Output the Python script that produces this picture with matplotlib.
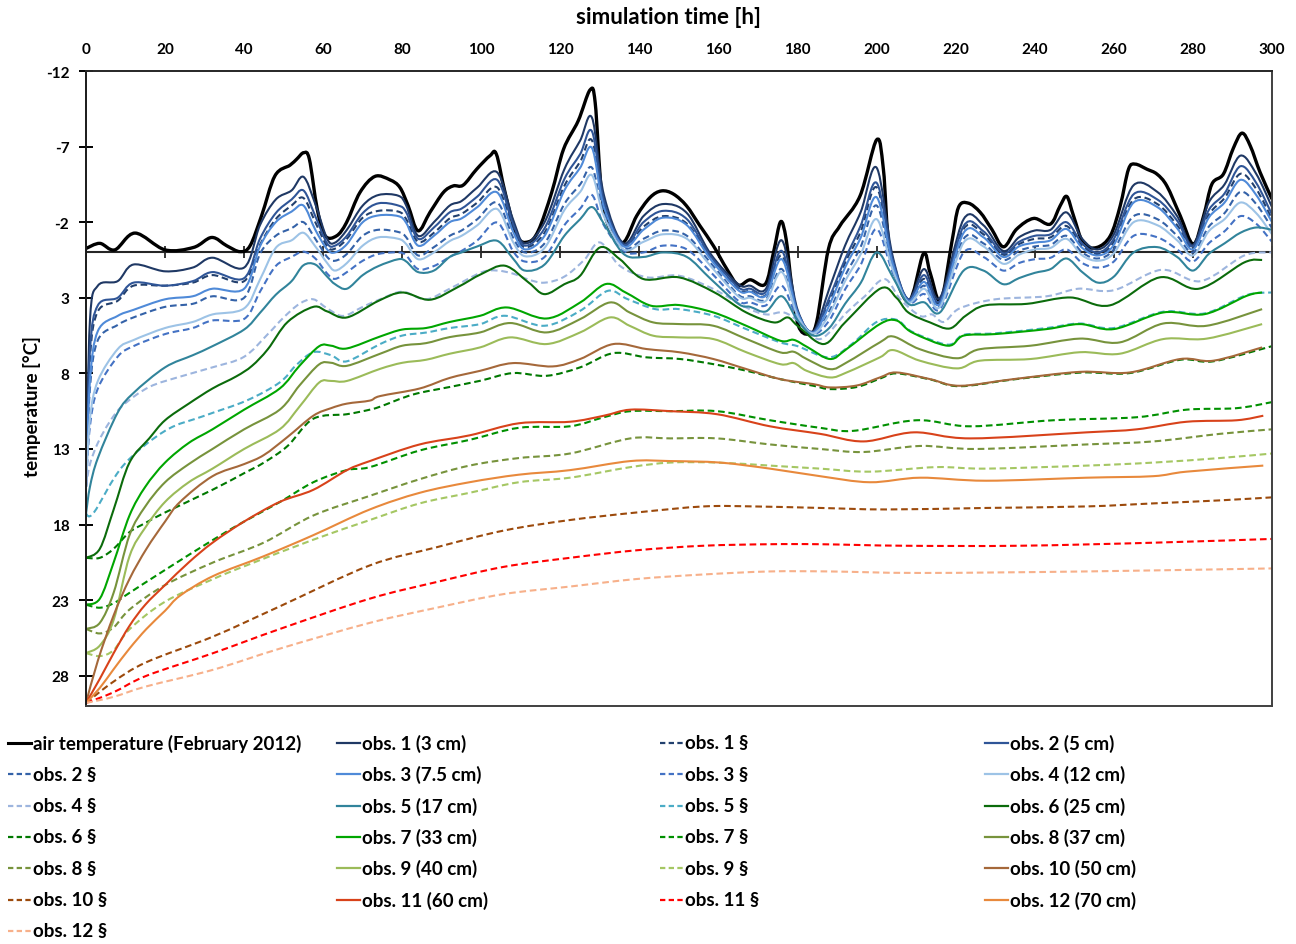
import numpy as np
import matplotlib.pyplot as plt
from matplotlib.lines import Line2D
from matplotlib.path import Path
from matplotlib.patches import PathPatch

plt.rcParams['font.family'] = ['Lato', 'DejaVu Sans']
plt.rcParams['font.weight'] = 'bold'
plt.rcParams['axes.unicode_minus'] = False

# ---- data ----
x_ticks = list(range(0, 301, 20))
y_ticks = [-12, -7, -2, 3, 8, 13, 18, 23, 28]

t_air = [0, 3.5, 7.3, 12.4, 20, 27.2, 31.8, 35.6, 39, 41.5,
         44.4, 47.8, 51.6, 53.3, 55.1, 56.5, 58.5, 60.5, 63.4, 65.9,
         69.3, 73.1, 76.9, 79.4, 81.5, 84, 87, 90.4, 92.9, 95.4,
         98.8, 102.2, 103.8, 106, 109, 111.9, 114.4, 117.8, 120.8, 124.5,
         127.5, 128.8, 130.4, 132.5, 135.9, 139.3, 142.7, 145.6, 148.6, 151.9,
         155.3, 158.7, 162.1, 165, 168, 171.8, 173.9, 175.7, 177.1, 178.5,
         180.2, 182.7, 184.8, 187.8, 190.7, 195.8, 200, 201.7, 203.4, 208,
         211.8, 213.5, 216.2, 219, 220.7, 223.2, 226.2, 229.1, 232.1, 235.4,
         239.7, 243.9, 246.4, 248.1, 249.8, 252.3, 255.7, 259.1, 261.6, 263.7,
         265.4, 268.4, 270.9, 273.4, 276.8, 280.1, 282.7, 284.8, 287.7, 290.2,
         292.4, 294.5, 297, 300]
air = [-0.26, -0.6, -0.17, -1.28, -0.17, -0.33, -0.99, -0.44, -0.05, -0.44,
       -2.42, -5.07, -5.77, -6.17, -6.6, -6.17, -2.86, -1.1, -1.1, -1.98,
       -3.97, -5.03, -4.8, -4.3, -3.08, -1.43, -2.65, -3.97, -4.4, -4.45,
       -5.5, -6.4, -6.5, -3.97, -1.1, -0.7, -1.43, -3.97, -6.83, -8.7,
       -10.75, -9.9, -3.97, -1.54, -0.66, -2.42, -3.64, -4.07, -3.86, -3.08,
       -1.76, -0.44, 1.1, 2.16, 1.81, 2.1, 0.0, -2.03, -0.88, 2.2,
       4.85, 5.4, 4.63, -0.22, -1.76, -3.74, -7.45, -5.5, 0.0, 3.27,
       0.1, 1.32, 3.2, -0.66, -2.98, -3.26, -2.65, -1.54, -0.37, -1.54,
       -2.25, -1.87, -3.08, -3.7, -2.42, -0.6, -0.33, -1.1, -3.08, -5.5,
       -5.84, -5.5, -5.18, -4.4, -2.42, -0.55, -2.42, -4.52, -5.18, -6.88,
       -7.89, -7.05, -5.29, -3.53]

t_shallow = [0, 1, 3, 8, 12, 20, 27, 32, 40, 44, 48, 52, 55, 58, 61, 63, 66, 70,
             74, 79, 81, 84, 88, 92, 95, 99, 104, 108, 111, 116, 121, 125, 128,
             131, 136, 141, 146, 152, 158, 165, 168, 172, 176, 180, 184, 188, 192,
             196, 200, 204, 208, 212, 216, 222, 227, 232, 236, 240, 244, 248, 252,
             256, 260, 265, 271, 276, 280, 284, 288, 292, 296, 300]
obs1 = [15.5, 4.5, 2.2, 1.9, 0.8, 1.25, 1.0, 0.35, 1.0, -1.8, -3.5, -4.1, -5.0, -3.2,
        -0.9, -0.65, -1.5, -3.1, -3.8, -3.75, -3.1, -1.1, -2.0, -3.1, -3.4, -4.3, -5.3,
        -2.2, -0.6, -2.0, -5.5, -7.4, -8.9, -3.8, -0.6, -2.4, -3.2, -2.6, 0.1, 2.1, 2.2,
        2.4, -0.8, 3.8, 5.2, 2.4, -0.45, -2.7, -5.6, 0.2, 3.1, 1.1, 3.0, -2.2, -1.8,
        -0.1, -1.0, -1.45, -1.5, -2.65, -0.9, -0.2, -1.2, -4.45, -4.0, -2.4, -0.5, -3.3,
        -4.5, -6.4, -5.2, -3.0]
obs2 = [15.5, 6.5, 3.5, 3.0, 2.0, 2.2, 1.9, 1.3, 1.7, -0.9, -2.6, -3.5, -4.1, -2.4,
        -0.6, -0.45, -1.1, -2.6, -3.25, -3.1, -2.65, -0.9, -1.65, -2.65, -2.9, -3.7,
        -4.8, -1.9, -0.45, -1.6, -4.85, -6.5, -8.0, -3.4, -0.5, -2.0, -2.75, -2.2, 0.25,
        2.3, 2.4, 2.6, -0.1, 3.9, 5.25, 3.0, 0.45, -1.8, -4.6, 0.4, 3.1, 1.5, 3.2, -1.75,
        -1.4, 0.05, -0.7, -1.1, -1.2, -2.0, -0.6, 0.0, -0.9, -3.85, -3.5, -2.1, -0.4,
        -2.8, -3.9, -5.7, -4.6, -2.5]
obs1_s = [15.5, 7.0, 3.9, 3.2, 2.2, 2.2, 2.0, 1.5, 1.9, -0.5, -2.2, -3.1, -3.6, -2.0,
          -0.4, -0.25, -0.9, -2.3, -2.75, -2.7, -2.2, -0.7, -1.3, -2.25, -2.55, -3.3,
          -4.3, -1.6, -0.35, -1.3, -4.4, -6.0, -7.4, -3.2, -0.45, -1.7, -2.4, -1.9, 0.35,
          2.45, 2.55, 2.8, 0.2, 4.0, 5.3, 3.3, 0.7, -1.4, -4.3, 0.6, 3.15, 1.75, 3.3,
          -1.55, -1.2, 0.15, -0.55, -0.9, -1.0, -1.75, -0.45, 0.1, -0.7, -3.5, -3.2,
          -1.8, -0.3, -2.5, -3.6, -5.2, -4.2, -2.2]
obs3 = [15.5, 8.5, 5.2, 4.2, 3.8, 3.1, 2.9, 2.4, 2.4, -0.4, -2.0, -2.7, -3.1, -1.5,
        -0.2, 0.0, -0.55, -2.0, -2.45, -2.4, -1.95, -0.45, -1.1, -2.0, -2.25, -3.0,
        -3.97, -1.4, -0.2, -1.1, -4.1, -5.6, -6.9, -3.0, -0.4, -1.5, -2.3, -1.8, 0.45,
        2.5, 2.6, 2.85, 0.45, 4.0, 5.3, 3.5, 1.0, -1.0, -3.65, 0.7, 3.2, 1.95, 3.4, -1.3,
        -1.0, 0.3, -0.4, -0.65, -0.8, -1.55, -0.3, 0.2, -0.5, -3.3, -3.0, -1.6, -0.2,
        -2.3, -3.3, -4.8, -3.8, -2.0]
obs2_s = [15.5, 9.0, 5.8, 4.8, 4.3, 3.6, 3.4, 2.9, 3.0, 0.1, -1.1, -1.6, -2.0, -0.9,
          0.3, 0.55, 0.1, -1.1, -1.5, -1.35, -1.0, 0.2, -0.35, -1.1, -1.45, -2.2, -3.3,
          -1.0, 0.0, -0.6, -3.2, -4.5, -5.6, -2.6, -0.3, -0.9, -1.45, -1.1, 0.7, 2.8,
          2.9, 3.1, 1.1, 4.2, 5.35, 3.9, 1.55, -0.4, -3.1, 0.9, 3.25, 2.2, 3.5, -0.9,
          -0.6, 0.5, -0.1, -0.4, -0.5, -1.1, 0.0, 0.4, -0.2, -2.4, -2.2, -1.1, 0.0,
          -1.7, -2.6, -4.0, -3.2, -1.6]
obs4 = [15.5, 11.0, 8.5, 6.4, 5.8, 5.0, 4.6, 4.1, 3.7, 1.8, -0.3, -0.8, -1.3, -0.4,
        0.7, 1.2, 0.7, -0.45, -1.0, -0.9, -0.55, 0.45, 0.0, -0.75, -1.1, -1.8, -2.87,
        -0.7, 0.25, -0.3, -2.8, -4.0, -5.1, -2.4, -0.2, -0.7, -1.2, -0.9, 0.9, 2.9,
        3.0, 3.2, 1.3, 4.2, 5.35, 4.1, 1.9, 0.1, -2.2, 1.1, 3.3, 2.4, 3.6, -0.65, -0.4,
        0.75, 0.15, -0.2, -0.3, -0.9, 0.2, 0.55, 0.05, -2.0, -1.8, -0.8, 0.2, -1.4,
        -2.2, -3.3, -2.6, -1.2]
obs3_s = [15.5, 11.5, 9.0, 6.9, 6.2, 5.4, 5.0, 4.5, 4.4, 2.6, 0.9, 0.3, -0.05, 0.4,
          1.4, 1.75, 1.3, 0.55, 0.1, 0.0, 0.2, 1.1, 0.9, 0.3, -0.1, -0.8, -1.98, -0.1,
          0.6, 0.3, -1.8, -2.9, -3.8, -1.8, -0.1, 0.0, -0.45, -0.2, 1.3, 3.2, 3.3, 3.5,
          2.2, 4.4, 5.4, 4.5, 2.45, 0.8, -1.55, 1.3, 3.35, 2.75, 3.75, 0.0, 0.3, 1.2,
          0.7, 0.45, 0.35, -0.2, 0.7, 1.0, 0.6, -1.1, -1.0, -0.2, 0.6, -0.6, -1.4, -2.4,
          -1.9, -0.7]
obs5 = [17.3, 15.5, 13.6, 10.6, 9.3, 7.6, 6.8, 6.2, 5.1, 4.0, 2.8, 1.9, 0.85, 0.8,
        1.6, 2.1, 2.4, 1.5, 0.9, 0.45, 0.6, 1.3, 1.2, 0.3, 0.0, -0.4, -0.77, 0.4, 1.2,
        0.8, -1.1, -2.2, -3.0, -1.9, 0.1, 0.3, 0.0, 0.3, 1.75, 3.4, 3.6, 3.9, 2.9, 4.5,
        5.5, 5.0, 3.4, 2.0, 0.0, 1.6, 3.4, 3.3, 3.97, 1.2, 1.2, 2.1, 1.7, 1.35, 1.1,
        0.4, 1.3, 2.0, 1.6, 0.0, -0.35, 0.3, 1.2, 0.1, -0.6, -1.3, -1.65, -1.5]

t_obs4_s = [0, 1, 3, 6, 9.4, 16, 24, 32, 40, 46, 50, 54, 57.5, 61, 65, 70, 74.4, 80,
            86, 92, 100, 104, 108, 112, 116, 121, 126, 130, 135, 142, 150, 158.7, 167,
            172, 176.5, 180.6, 185.7, 192.4, 197, 202, 206, 211, 214, 217, 221, 230,
            243, 251, 260, 272, 282, 293, 300]
obs4_s = [15.5, 14.0, 12.6, 11.2, 10.1, 8.9, 8.2, 7.6, 6.9, 5.4, 4.3, 3.4, 3.1, 3.7,
          4.2, 3.6, 3.1, 2.6, 3.1, 2.4, 1.32, 1.2, 1.4, 1.8, 2.0, 1.6, 0.5, -0.66,
          0.88, 1.65, 1.54, 2.42, 3.64, 4.1, 3.97, 4.63, 5.73, 3.97, 2.9, 1.76, 3.1,
          4.2, 4.1, 4.6, 3.7, 3.1, 2.9, 2.4, 2.5, 1.15, 1.9, 0.2, 0.0]

t_obs6 = [0, 3.5, 7, 11, 16, 20, 26, 32, 38, 42, 46, 51, 57.5, 61, 66, 74, 80, 87,
          94, 100, 106, 112, 116, 121, 125, 130, 135, 141, 150, 159, 167, 174, 177.5,
          180, 186.6, 192, 201, 205, 208, 213.5, 218.5, 222.5, 227.5, 238, 249, 259,
          271.6, 281.5, 293, 297.5]
obs6 = [20.2, 19.6, 17.0, 13.9, 12.3, 11.1, 10.0, 9.0, 8.2, 7.5, 6.4, 4.6, 3.6, 3.9,
        4.3, 3.2, 2.65, 3.13, 2.3, 1.43, 0.88, 2.0, 2.76, 2.1, 1.54, -0.33, 0.44, 1.76,
        1.65, 2.65, 3.97, 4.63, 4.3, 4.85, 6.06, 4.63, 2.38, 3.0, 3.97, 4.63, 5.03,
        4.19, 3.5, 3.4, 2.98, 3.5, 1.65, 2.4, 0.66, 0.5]

t_obs5_s = [0, 2, 9.4, 20, 30, 40.6, 49, 53, 57.5, 62, 66, 74.4, 80, 86, 92, 99.7,
            106, 116, 125, 132, 137, 144, 150, 158.7, 167, 175.6, 180, 188, 194, 200,
            205, 209, 218, 222, 230, 243, 251.4, 260, 272.5, 283, 293.6, 300]
obs5_s = [17.3, 17.2, 14.1, 11.8, 10.8, 9.8, 8.6, 7.5, 6.6, 6.8, 7.2, 6.06, 5.5, 5.3,
          5.0, 4.74, 4.19, 4.85, 3.86, 2.54, 3.09, 3.75, 3.75, 4.19, 5.07, 5.95, 6.2,
          6.94, 6.0, 4.6, 4.45, 5.25, 6.1, 5.45, 5.35, 5.0, 4.7, 5.0, 3.92, 4.03, 2.82,
          2.65]

t_obs7 = [0, 3.5, 7, 11, 15, 20, 26, 32, 40, 49, 54, 59, 62, 66, 74.4, 80, 86, 92,
          99.7, 106.5, 116.5, 125, 131.5, 136.5, 143, 150, 158.7, 167, 175.6, 179,
          182.6, 188.2, 192.4, 200.8, 205, 209, 218, 222, 230, 243, 251.4, 260, 272.5,
          283, 293.6, 297.5]
obs7 = [23.3, 22.9, 20.5, 17.4, 15.5, 13.9, 12.6, 11.7, 10.4, 9.0, 7.5, 6.2, 6.17,
        6.35, 5.56, 5.1, 5.0, 4.6, 4.19, 3.64, 4.37, 3.31, 2.09, 2.65, 3.53, 3.48,
        3.97, 4.85, 5.84, 5.78, 6.28, 7.05, 6.39, 4.74, 4.5, 5.3, 6.17, 5.5, 5.4,
        5.07, 4.74, 5.07, 3.97, 4.08, 2.87, 2.65]

t_obs8 = [0, 3.5, 7, 11, 15, 20, 26, 32, 40, 49, 54, 59, 62, 66, 74.4, 80, 86, 92,
          99.7, 107.3, 116.5, 125, 132.5, 137.5, 143.5, 150.3, 158.7, 167.1, 175.6,
          179, 182.3, 188.2, 192.4, 200.8, 204.2, 210.9, 220.3, 226.1, 238.9, 251.4,
          261.5, 272.5, 283.5, 297.5]
obs8 = [24.9, 24.5, 22.5, 18.7, 16.8, 15.2, 14.0, 13.0, 11.7, 10.4, 8.8, 7.4, 7.3,
        7.5, 6.7, 6.17, 6.0, 5.6, 5.29, 4.67, 5.29, 4.41, 3.31, 3.97, 4.63, 4.74, 4.85,
        5.73, 6.61, 6.57, 7.05, 7.72, 7.28, 5.95, 5.56, 6.4, 7.0, 6.4, 6.17, 5.7, 5.95,
        4.7, 4.85, 3.75]
obs9 = [26.5, 26.0, 24.3, 20.1, 18.2, 16.5, 15.2, 14.3, 13.0, 11.7, 10.2, 8.6, 8.5,
        8.5, 7.7, 7.3, 7.1, 6.7, 6.28, 5.62, 6.06, 5.29, 4.3, 4.85, 5.51, 5.62, 5.73,
        6.61, 7.39, 7.32, 7.83, 8.27, 7.94, 6.94, 6.46, 7.16, 7.67, 7.16, 7.05, 6.6,
        6.7, 5.73, 5.7, 4.74]

t_obs10 = [0, 3, 7, 11, 15.3, 20, 23.8, 32, 40, 45, 51, 57.5, 62, 66, 71.8, 74.4,
           84.4, 92, 99.7, 108, 118, 125, 133.4, 141.8, 150.3, 158.7, 167.1, 175.6,
           184, 188.2, 195, 200.8, 205, 213.5, 221, 234.6, 251.4, 264, 276.8, 285.2,
           297.5]
obs10 = [29.8, 27.0, 24.0, 21.6, 19.6, 17.8, 16.5, 14.8, 14.0, 13.4, 12.2, 10.8, 10.3,
         10.0, 9.8, 9.5, 9.0, 8.3, 7.83, 7.32, 7.54, 7.05, 6.06, 6.39, 6.61, 7.05, 7.72,
         8.38, 8.71, 8.93, 8.8, 8.27, 7.94, 8.38, 8.82, 8.38, 7.9, 7.94, 7.05, 7.16, 6.28]

t_obs6_s = [0, 3.5, 7, 11, 15, 20, 32, 40, 45, 51, 57.5, 66, 71.8, 74.4, 82.7, 92,
            99.7, 108, 116.5, 125, 133.4, 141.8, 150.3, 158.7, 167.1, 175.6, 184, 188.2,
            195, 200.8, 205, 213.5, 221, 234.6, 251.4, 264, 276.8, 285.2, 300]
obs6_s = [20.2, 20.2, 19.6, 18.5, 17.9, 17.2, 15.7, 14.6, 13.9, 12.8, 11.0, 10.7, 10.4,
          10.2, 9.4, 8.9, 8.49, 7.98, 8.16, 7.6, 6.66, 6.94, 7.05, 7.39, 7.83, 8.38,
          8.82, 9.04, 8.9, 8.35, 8.0, 8.4, 8.85, 8.4, 7.95, 7.98, 7.1, 7.2, 6.2]

t_obs11 = [0, 3.5, 7, 11, 15, 20, 26, 32, 40, 49, 57.5, 66, 71.8, 84.4, 97, 109.5,
           122.4, 131, 137.7, 147.8, 159.6, 173, 185.7, 196.7, 209.4, 223.7, 253.1,
           265.8, 278.4, 291.1, 297.8]
obs11 = [29.8, 28.2, 26.5, 24.7, 23.3, 22.0, 20.5, 19.2, 17.8, 16.5, 15.7, 14.4, 13.8,
         12.7, 12.1, 11.3, 11.2, 10.8, 10.4, 10.5, 10.7, 11.5, 12.0, 12.5, 11.9, 12.3,
         11.9, 11.7, 11.2, 11.1, 10.8]

t_obs7_s = [0, 3.5, 7, 11.1, 20, 32.2, 40, 49.1, 57.5, 65.9, 71.8, 84.4, 97, 109.5,
            122.4, 131, 137.7, 147.8, 159.6, 173, 185.7, 194.1, 210.1, 223.7, 244.7,
            265.8, 278.4, 291.1, 300]
obs7_s = [23.3, 23.5, 23.2, 22.5, 21.0, 19.0, 17.8, 16.5, 15.2, 14.4, 14.2, 13.1, 12.4,
          11.6, 11.5, 10.9, 10.5, 10.5, 10.5, 11.1, 11.6, 11.8, 11.1, 11.5, 11.1, 10.9,
          10.4, 10.3, 9.9]

t_obs8_s = [0, 3.5, 7, 11.1, 20, 32.2, 44.9, 57.5, 71.8, 84.4, 97, 109.5, 122.4,
            137.7, 147.8, 159.6, 173, 185.7, 196.7, 211, 225.3, 253.1, 270, 286.8, 300]
obs8_s = [24.9, 25.2, 24.8, 23.6, 22.0, 20.5, 19.2, 17.4, 16.1, 15.0, 14.1, 13.6, 13.3,
          12.3, 12.3, 12.3, 12.7, 13.0, 13.2, 12.8, 13.0, 12.7, 12.5, 12.0, 11.7]

t_obs9_s = [0, 3.5, 7, 11.1, 20, 32.2, 40.6, 57.5, 71.8, 84.4, 97, 109.5, 122.4,
            137.7, 147.8, 159.6, 173, 185.7, 198.3, 215, 227.7, 253.1, 270, 286.8, 300]
obs9_s = [26.5, 26.7, 26.3, 24.9, 23.1, 21.6, 20.7, 19.0, 17.7, 16.6, 15.9, 15.2, 14.9,
          14.2, 13.9, 13.9, 14.1, 14.3, 14.5, 14.2, 14.3, 14.1, 13.9, 13.6, 13.3]

t_obs12 = [0, 3.5, 6.9, 11, 15.3, 20, 23.8, 32.2, 44.9, 57.5, 71.8, 84.4, 97, 109.5,
           122.4, 137.7, 147.8, 160.4, 173, 185.7, 198.3, 211, 227.7, 253.1, 269.9,
           278.4, 297.8]
obs12 = [29.8, 28.8, 27.6, 26.2, 24.9, 23.7, 22.7, 21.4, 20.1, 18.7, 17.0, 15.9, 15.2,
         14.7, 14.4, 13.8, 13.8, 13.9, 14.3, 14.8, 15.2, 14.9, 15.1, 14.9, 14.8, 14.5,
         14.1]

t_obs10_s = [0, 6.9, 15.3, 32.2, 49.1, 71.8, 88.7, 105.6, 122.4, 139.3, 156.2, 168.9,
             185.7, 202.5, 227.8, 253.1, 269.9, 286.8, 300]
obs10_s = [29.8, 28.4, 27.1, 25.4, 23.4, 20.7, 19.5, 18.4, 17.7, 17.2, 16.8, 16.8,
           16.9, 17.0, 16.9, 16.8, 16.6, 16.4, 16.2]

t_obs11_s = [0, 6.9, 15.3, 32.2, 49.1, 71.8, 88.7, 105.6, 122.4, 139.3, 156.2, 173,
             185.7, 206.8, 236.2, 269.9, 300]
obs11_s = [29.8, 29.1, 28.0, 26.5, 24.9, 22.9, 21.8, 20.8, 20.2, 19.7, 19.4, 19.3,
           19.3, 19.4, 19.4, 19.2, 18.95]

t_obs12_s = [0, 6.9, 15.3, 32.2, 49.1, 71.8, 88.7, 105.6, 122.4, 139.3, 156.2, 173,
             188, 211, 253, 300]
obs12_s = [29.8, 29.4, 28.7, 27.6, 26.2, 24.5, 23.5, 22.6, 22.1, 21.6, 21.3, 21.1,
           21.1, 21.2, 21.1, 20.9]

# label, times, values, colour, dashed, width (legend order)
series = [
    ("air temperature (February 2012)", t_air, air, '#000000', False, 2.4),
    ("obs. 1 (3 cm)", t_shallow, obs1, '#1f3864', False, 1.5),
    ("obs. 1 §", t_shallow, obs1_s, '#22406e', True, 1.5),
    ("obs. 2 (5 cm)", t_shallow, obs2, '#2f5597', False, 1.5),
    ("obs. 2 §", t_shallow, obs2_s, '#3462a8', True, 1.5),
    ("obs. 3 (7.5 cm)", t_shallow, obs3, '#4f8ad8', False, 1.5),
    ("obs. 3 §", t_shallow, obs3_s, '#4472c4', True, 1.5),
    ("obs. 4 (12 cm)", t_shallow, obs4, '#9dc3e6', False, 1.5),
    ("obs. 4 §", t_obs4_s, obs4_s, '#9db5de', True, 1.5),
    ("obs. 5 (17 cm)", t_shallow, obs5, '#31849b', False, 1.5),
    ("obs. 5 §", t_obs5_s, obs5_s, '#4bacc6', True, 1.5),
    ("obs. 6 (25 cm)", t_obs6, obs6, '#0b6b0b', False, 1.5),
    ("obs. 6 §", t_obs6_s, obs6_s, '#007800', True, 1.5),
    ("obs. 7 (33 cm)", t_obs7, obs7, '#00a600', False, 1.5),
    ("obs. 7 §", t_obs7_s, obs7_s, '#009000', True, 1.5),
    ("obs. 8 (37 cm)", t_obs8, obs8, '#77933c', False, 1.5),
    ("obs. 8 §", t_obs8_s, obs8_s, '#77933c', True, 1.5),
    ("obs. 9 (40 cm)", t_obs8, obs9, '#9bbb59', False, 1.5),
    ("obs. 9 §", t_obs9_s, obs9_s, '#a5c763', True, 1.5),
    ("obs. 10 (50 cm)", t_obs10, obs10, '#a5683a', False, 1.5),
    ("obs. 10 §", t_obs10_s, obs10_s, '#9c4a0c', True, 1.5),
    ("obs. 11 (60 cm)", t_obs11, obs11, '#d8421a', False, 1.5),
    ("obs. 11 §", t_obs11_s, obs11_s, '#ff0000', True, 1.5),
    ("obs. 12 (70 cm)", t_obs12, obs12, '#e8893c', False, 1.5),
    ("obs. 12 §", t_obs12_s, obs12_s, '#f7b08a', True, 1.5),
]


def smooth_path(t, v):
    # bezier through the points, like a spreadsheet's smoothed line
    p = np.column_stack([t, v]).astype(float)
    n = len(p)
    verts = [p[0]]
    codes = [Path.MOVETO]
    for i in range(n - 1):
        a = p[i - 1] if i > 0 else p[i]
        d = p[i + 2] if i + 2 < n else p[i + 1]
        verts += [p[i] + (p[i + 1] - a) / 6, p[i + 1] - (d - p[i]) / 6, p[i + 1]]
        codes += [Path.CURVE4] * 3
    return Path(verts, codes)


W, H = 1296, 945
fig = plt.figure(figsize=(W / 100, H / 100), dpi=100)
ax = fig.add_axes([86 / W, 1 - 707 / H, (1272 - 86) / W, (707 - 72) / H])

# zero line with the time ticks on it
ax.axhline(0, color='#262626', lw=1.5, zorder=1.5)
ax.plot(x_ticks, np.zeros(len(x_ticks)), ls='none', marker='|', ms=9, mew=1.3,
        color='#262626', zorder=1.5)

for label, t, v, c, dashed, lw in series:
    ls = (0, (3.2, 1.8)) if dashed else '-'
    ax.add_patch(PathPatch(smooth_path(t, v), fill=False, edgecolor=c, lw=lw,
                           linestyle=ls, joinstyle='round', capstyle='butt',
                           label=label, zorder=2))

ax.set_xlim(0, 300)
ax.set_ylim(30, -12)
ax.set_xticks(x_ticks)
ax.set_yticks(y_ticks)
ax.tick_params(axis='x', top=True, bottom=False, labeltop=True, labelbottom=False,
               length=0, pad=11, labelsize=11)
ax.tick_params(axis='y', direction='inout', length=10, width=1.4, pad=7,
               labelsize=11)
for s in ax.spines.values():
    s.set_color('#404040')
    s.set_linewidth(1.4)
ax.spines['left'].set_color('#1a1a1a')
ax.spines['top'].set_color('#262626')

fig.text(669 / W, 1 - 18 / H, 'simulation time [h]', ha='center', va='center',
         fontsize=16, fontweight='bold')
fig.text(32 / W, 1 - 407 / H, 'temperature [°C]', ha='center', va='center',
         rotation=90, fontsize=13.5, fontweight='bold')

# legend, 4 columns filled row by row
col_x = [8, 337, 660, 985]
for i, (label, t, v, c, dashed, lw) in enumerate(series):
    r, k = divmod(i, 4)
    x0 = col_x[k]
    y = 1 - (744 + r * 31.33) / H
    ls = (0, (2.4, 1.5)) if dashed else '-'
    fig.add_artist(Line2D([x0 / W, (x0 + 23) / W], [y, y], color=c, ls=ls,
                          lw=2.2 if i == 0 else 1.6))
    fig.text((x0 + 25) / W, y, label, ha='left', va='center', fontsize=13.5,
             fontweight='bold')

fig.savefig('out.png', dpi=100)
